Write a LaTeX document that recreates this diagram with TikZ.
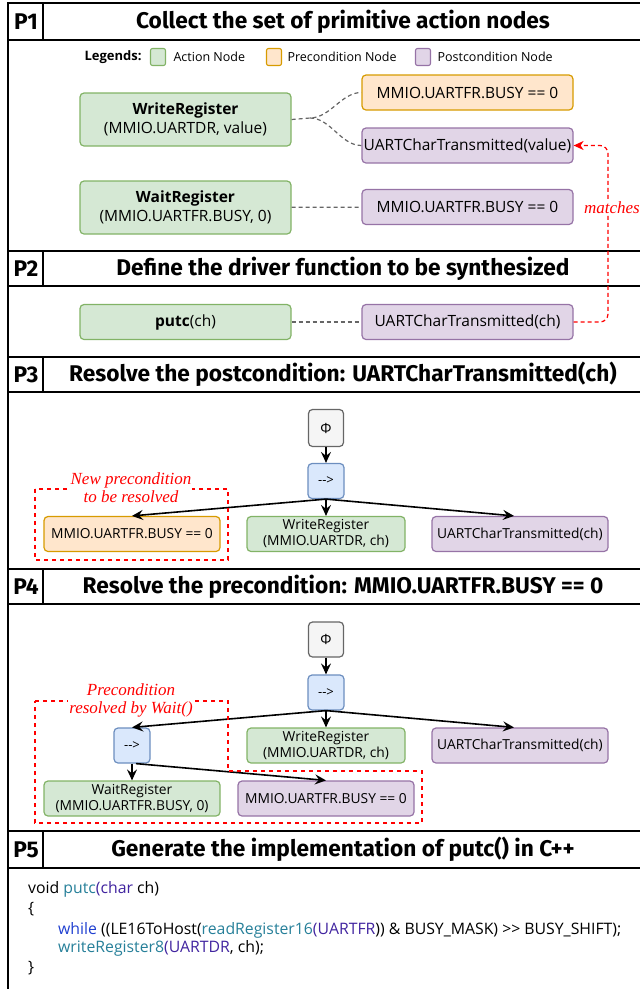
\documentclass[tikz,border=0pt]{standalone}
\usepackage{fontspec}
\setmainfont{Open Sans}
\newfontfamily\headfont{Fira Sans}
\newfontfamily\notefont{Liberation Serif}
\usetikzlibrary{arrows,arrows.meta,shapes,positioning,calc}

\definecolor{actfill}{HTML}{D5E8D4}
\definecolor{actline}{HTML}{82B366}
\definecolor{prefill}{HTML}{FFE6CC}
\definecolor{preline}{HTML}{D79B00}
\definecolor{postfill}{HTML}{E1D5E7}
\definecolor{postline}{HTML}{9673A6}
\definecolor{seqfill}{HTML}{DAE8FC}
\definecolor{seqline}{HTML}{6C8EBF}
\definecolor{rootfill}{HTML}{F5F5F5}
\definecolor{rootline}{HTML}{666666}
\definecolor{fncol}{HTML}{267F99}
\definecolor{typcol}{HTML}{40239F}
\definecolor{kwcol}{HTML}{1F3FD0}

\newcommand{\fn}[1]{\textcolor{fncol}{#1}}
\newcommand{\ty}[1]{\textcolor{typcol}{#1}}
\newcommand{\kw}[1]{\textcolor{kwcol}{#1}}

\tikzset{
  box/.style={draw,rounded corners=4pt,line width=1.2pt,align=center,inner sep=1pt},
  act/.style={box,fill=actfill,draw=actline},
  prec/.style={box,fill=prefill,draw=preline},
  post/.style={box,fill=postfill,draw=postline},
  seqbox/.style={box,fill=seqfill,draw=seqline,font=\fontsize{13}{15}\selectfont},
  rootbox/.style={box,fill=rootfill,draw=rootline,font=\fontsize{14}{16}\selectfont},
  big/.style={minimum width=211pt,font=\fontsize{15.5}{19}\selectfont},
  small/.style={minimum height=35pt,font=\fontsize{13.8}{16}\selectfont},
  link/.style={draw=black!60,line width=1.2pt,dash pattern=on 4pt off 3pt},
  tree/.style={-{Stealth[length=11pt,width=10pt,inset=4pt]},line width=1.6pt},
  redbox/.style={draw=red,line width=1.1pt,dash pattern=on 4pt off 4pt},
  note/.style={text=red,fill=white,align=center,inner sep=1pt,font=\notefont\itshape\fontsize{17}{18}\selectfont},
  head/.style={font=\headfont\bfseries\fontsize{22.7}{25}\selectfont},
  legbox/.style={draw,rounded corners=2pt,line width=1.1pt,minimum width=15pt,minimum height=17pt,inner sep=0pt},
  legtxt/.style={font=\fontsize{12.5}{14}\selectfont},
  code/.style={anchor=base west,inner sep=0pt,font=\fontsize{15.8}{18}\selectfont}
}

\begin{document}
\begin{tikzpicture}[x=1pt,y=-1pt,>=stealth]
\useasboundingbox (0,0) rectangle (640,989);
\begin{scope}
\clip (0,0) rectangle (640,989);
% frame and section headers
\draw[line width=1.5pt] (8,3) -- (8,995);
\foreach \top/\bot in {3/40, 251/286, 357/392, 569/604, 831/868} {
  \draw[line width=1.5pt] (8,\top) rectangle (660,\bot);
  \draw[line width=1.5pt] (43,\top) -- (43,\bot);
}
\end{scope}
\node[head] (h1) at (26,21.5) {P1};
\node[head] (h2) at (26,268.5) {P2};
\node[head] (h3) at (26,374.5) {P3};
\node[head] (h4) at (26,586.5) {P4};
\node[head] (h5) at (26,849.5) {P5};
\node[head] (t1) at (343,21.5) {Collect the set of primitive action nodes};
\node[head] (t2) at (343,268.5) {Define the driver function to be synthesized};
\node[head] (t3) at (343,374.5) {Resolve the postcondition: UARTCharTransmitted(ch)};
\node[head] (t4) at (343,586.5) {Resolve the precondition: MMIO.UARTFR.BUSY == 0};
\node[head] (t5) at (343,849.5) {Generate the implementation of putc() in C++};

% P1: legend
\node[font=\bfseries\fontsize{13}{15}\selectfont] (leg) at (113,57) {Legends:};
\node[legbox,fill=actfill,draw=actline] (lact) at (158,57) {};
\node[right=4pt of lact,legtxt] (lacttxt) {Action Node};
\node[legbox,fill=prefill,draw=preline] (lpre) at (274,57) {};
\node[right=2pt of lpre,legtxt] (lpretxt) {Precondition Node};
\node[legbox,fill=postfill,draw=postline] (lpost) at (423,57) {};
\node[right=3pt of lpost,legtxt] (lposttxt) {Postcondition Node};

% P1: primitive action nodes
\node[act,big,minimum height=53pt] (wr) at (185.5,119.5) {\textbf{WriteRegister}\\(MMIO.UARTDR, value)};
\node[prec,big,minimum height=35pt] (busyp) at (467.5,92.5) {MMIO.UARTFR.BUSY == 0};
\node[post,big,minimum height=35pt] (utv) at (467.5,145.5) {UARTCharTransmitted(value)};
\node[act,big,minimum height=53pt] (wt) at (185.5,207.5) {\textbf{WaitRegister}\\(MMIO.UARTFR.BUSY, 0)};
\node[post,big,minimum height=35pt] (busyq) at (467.5,207) {MMIO.UARTFR.BUSY == 0};
\coordinate (split) at (310,118);
\draw[link] (wr.east) -- (split) to[out=0,in=180,looseness=0.9] (busyp.west);
\draw[link] (split) to[out=0,in=180,looseness=0.9] (utv.west);
\draw[link] (wt) -- (busyq);

% P2: function to synthesize
\node[act,big,minimum height=35pt] (putc) at (185.5,322) {\textbf{putc}(ch)};
\node[post,big,minimum height=35pt] (uch) at (467.5,322) {UARTCharTransmitted(ch)};
\draw[link] (putc) -- (uch);
\coordinate (mx) at (608,0);
\draw[-{Stealth[length=10pt,width=9pt,inset=3pt]},red,line width=1.2pt,dash pattern=on 4pt off 3pt,rounded corners=8pt]
  (uch.east) -- (uch.east -| mx) -- (utv.east -| mx) -- (utv.east);
\node[note] (match) at (612,208) {matches};

% P3: resolve the postcondition
\node[rootbox,minimum width=35pt,minimum height=37pt] (phia) at (326,428) {Φ};
\node[seqbox,minimum width=36pt,minimum height=35pt] (seqa) at (326,481) {-{}->};
\node[prec,small,minimum width=176pt] (busya) at (132,534) {MMIO.UARTFR.BUSY == 0};
\node[act,small,minimum width=158pt] (wra) at (326,534) {WriteRegister\\(MMIO.UARTDR, ch)};
\node[post,small,minimum width=176pt] (ucha) at (520,534) {UARTCharTransmitted(ch)};
\draw[tree] (phia) -- (seqa);
\draw[tree] (seqa.south) -- (busya.north);
\draw[tree] (seqa) -- (wra);
\draw[tree] (seqa.south) -- ([xshift=-6pt]ucha.north);
\draw[redbox] (35,489) rectangle (228,560);
\node[note] (newpre) at (131,488) {New precondition\\to be resolved};

% P4: resolve the precondition
\node[rootbox,minimum width=35pt,minimum height=35pt] (phib) at (326,639.5) {Φ};
\node[seqbox,minimum width=36pt,minimum height=35pt] (seqb) at (326,692.5) {-{}->};
\node[seqbox,minimum width=36pt,minimum height=35pt] (seqc) at (132,745.5) {-{}->};
\node[act,small,minimum width=158pt] (wrb) at (326,745.5) {WriteRegister\\(MMIO.UARTDR, ch)};
\node[post,small,minimum width=176pt] (uchb) at (520,745.5) {UARTCharTransmitted(ch)};
\node[act,small,minimum width=176pt] (wtb) at (132,798.5) {WaitRegister\\(MMIO.UARTFR.BUSY, 0)};
\node[post,small,minimum width=176pt] (busyb) at (326,798.5) {MMIO.UARTFR.BUSY == 0};
\draw[tree] (phib) -- (seqb);
\draw[tree] (seqb.south) -- (seqc.north);
\draw[tree] (seqb) -- (wrb);
\draw[tree] (seqb.south) -- ([xshift=-6pt]uchb.north);
\draw[tree] (seqc) -- (wtb);
\draw[tree] ([xshift=4pt]seqc.south) -- (busyb.north);
\draw[redbox] (35,701) -- (228,701) -- (228,771) -- (422,771) -- (422,823) -- (35,823) -- cycle;
\node[note] (resolved) at (131,700) {Precondition\\resolved by Wait()};

% P5: generated code
\node[code] (c1) at (28,893) {void \fn{putc}\ty{(char} ch)};
\node[code] (c2) at (28,913) {\{};
\node[code] (c3) at (58,934) {\kw{while} ((LE16ToHost(\fn{readRegister16}\ty{(UARTFR}))
  \& BUSY\_MASK) >{}> BUSY\_SHIFT);};
\node[code] (c4) at (58,952) {\fn{writeRegister8}\ty{(UARTDR}, ch);};
\node[code] (c5) at (28,972) {\}};
\end{tikzpicture}
\end{document}
